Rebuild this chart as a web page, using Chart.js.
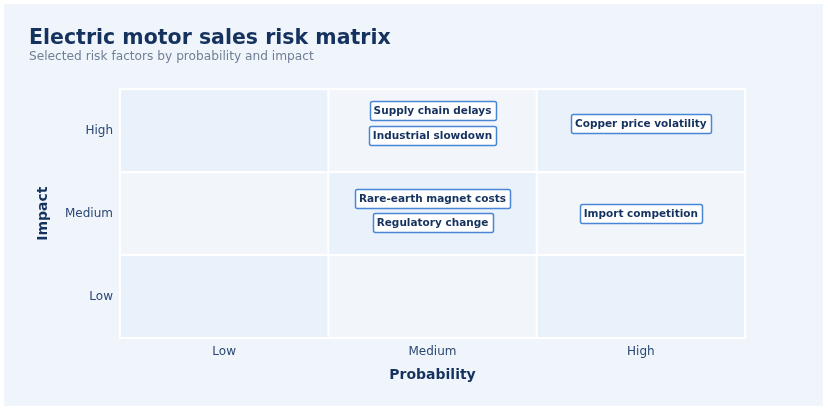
<!DOCTYPE html>
<html>
<head>
<meta charset="utf-8">
<title>Electric motor sales risk matrix</title>
<script src="https://cdn.jsdelivr.net/npm/chart.js@4/dist/chart.umd.min.js"></script>
<style>
    html, body { margin: 0; padding: 0; background: #ffffff; }
    #wrap {
        position: absolute;
        left: 4px;
        top: 4px;
        width: 819px;
        height: 402px;
        background: #f0f5fb;
    }
</style>
</head>
<body>
<div id="wrap"><canvas id="matrix" width="819" height="402"></canvas></div>
<script>
// categories on both axes (low -> high)
var probabilityLevels = ['Low', 'Medium', 'High'];
var impactLevels = ['Low', 'Medium', 'High'];

// risk factors (0..3 scale, cell centre = n + 0.5)
var riskNames = [
    'Supply chain delays',
    'Industrial slowdown',
    'Copper price volatility',
    'Rare-earth magnet costs',
    'Regulatory change',
    'Import competition'
];
var riskProbability = [1.5, 1.5, 2.5, 1.5, 1.5, 2.5];
var riskImpact = [2.74, 2.44, 2.59, 1.68, 1.39, 1.5];

var navy = '#15325f';
var font = "'DejaVu Sans', sans-serif";

var points = [];
for (var i = 0; i < riskNames.length; i++) {
    points.push({x: riskProbability[i], y: riskImpact[i], label: riskNames[i]});
}

function centreTicks(levels) {
    return function (scale) {
        scale.ticks = levels.map(function (l, i) {
            return {value: i + 0.5};
        });
    };
}

// background cells of the matrix, checkerboard shading
var cellsPlugin = {
    id: 'cells',
    beforeDatasetsDraw: function (chart) {
        var ctx = chart.ctx;
        var xs = chart.scales.x;
        var ys = chart.scales.y;
        var area = chart.chartArea;
        ctx.save();
        ctx.fillStyle = '#ffffff';
        ctx.fillRect(area.left - 1, area.top - 1, area.right - area.left + 2, area.bottom - area.top + 2);
        for (var p = 0; p < probabilityLevels.length; p++) {
            for (var m = 0; m < impactLevels.length; m++) {
                var x0 = xs.getPixelForValue(p);
                var x1 = xs.getPixelForValue(p + 1);
                var y0 = ys.getPixelForValue(m + 1);
                var y1 = ys.getPixelForValue(m);
                ctx.fillStyle = (p + m) % 2 === 0 ? '#e9f1fb' : '#f2f6fb';
                ctx.fillRect(x0 + 1, y0 + 1, x1 - x0 - 2, y1 - y0 - 2);
            }
        }
        ctx.restore();
    }
};

// boxed text labels at each risk point
var labelsPlugin = {
    id: 'riskLabels',
    afterDatasetsDraw: function (chart) {
        var ctx = chart.ctx;
        var meta = chart.getDatasetMeta(0);
        ctx.save();
        ctx.font = 'bold 10.5px ' + font;
        ctx.textAlign = 'center';
        ctx.textBaseline = 'middle';
        meta.data.forEach(function (pt, i) {
            var text = chart.data.datasets[0].data[i].label;
            var w = Math.round(ctx.measureText(text).width + 8);
            var h = 19;
            var x = Math.round(pt.x - w / 2) + 0.5;
            var y = Math.round(pt.y - h / 2) + 0.5;
            ctx.beginPath();
            ctx.roundRect(x, y, w, h, 2);
            ctx.fillStyle = '#ffffff';
            ctx.fill();
            ctx.lineWidth = 1.5;
            ctx.strokeStyle = '#4a86d6';
            ctx.stroke();
            ctx.fillStyle = navy;
            ctx.fillText(text, pt.x, y + h / 2 + 0.5);
        });
        ctx.restore();
    }
};

var config = {
    type: 'scatter',
    data: {
        datasets: [{
            label: 'Risks',
            data: points,
            pointRadius: 0,
            pointHoverRadius: 0
        }]
    },
    options: {
        responsive: false,
        animation: false,
        layout: {
            padding: {left: 25, right: 78, top: 23, bottom: 20}
        },
        plugins: {
            legend: {display: false},
            tooltip: {enabled: false},
            title: {
                display: true,
                text: 'Electric motor sales risk matrix',
                align: 'start',
                color: navy,
                font: {family: font, size: 20.5, weight: 'bold', lineHeight: 1},
                padding: {top: 1, bottom: 0}
            },
            subtitle: {
                display: true,
                text: 'Selected risk factors by probability and impact',
                align: 'start',
                color: '#6f7f95',
                font: {family: font, size: 12.2, lineHeight: 1.2},
                padding: {top: 1, bottom: 25}
            }
        },
        scales: {
            x: {
                type: 'linear',
                min: 0,
                max: 3,
                afterBuildTicks: centreTicks(probabilityLevels),
                afterFit: function (scale) { scale.height = 48; },
                grid: {display: false, drawTicks: false},
                border: {display: false},
                ticks: {
                    padding: 7,
                    color: '#2a4775',
                    font: {family: font, size: 12},
                    callback: function (v) { return probabilityLevels[Math.floor(v)]; }
                },
                title: {
                    display: true,
                    text: 'Probability',
                    color: navy,
                    font: {family: font, size: 14, weight: 'bold'},
                    padding: {top: 0, bottom: 2}
                }
            },
            y: {
                type: 'linear',
                min: 0,
                max: 3,
                afterBuildTicks: centreTicks(impactLevels),
                afterFit: function (scale) { scale.width = 91; },
                grid: {display: false, drawTicks: false},
                border: {display: false},
                ticks: {
                    padding: 7,
                    color: '#2a4775',
                    font: {family: font, size: 12},
                    callback: function (v) { return impactLevels[Math.floor(v)]; }
                },
                title: {
                    display: true,
                    text: 'Impact',
                    color: navy,
                    font: {family: font, size: 14, weight: 'bold'},
                    padding: {top: 6, bottom: 0}
                }
            }
        }
    },
    plugins: [cellsPlugin, labelsPlugin]
};

var ctx = document.getElementById('matrix').getContext('2d');
new Chart(ctx, config);
</script>
</body>
</html>
